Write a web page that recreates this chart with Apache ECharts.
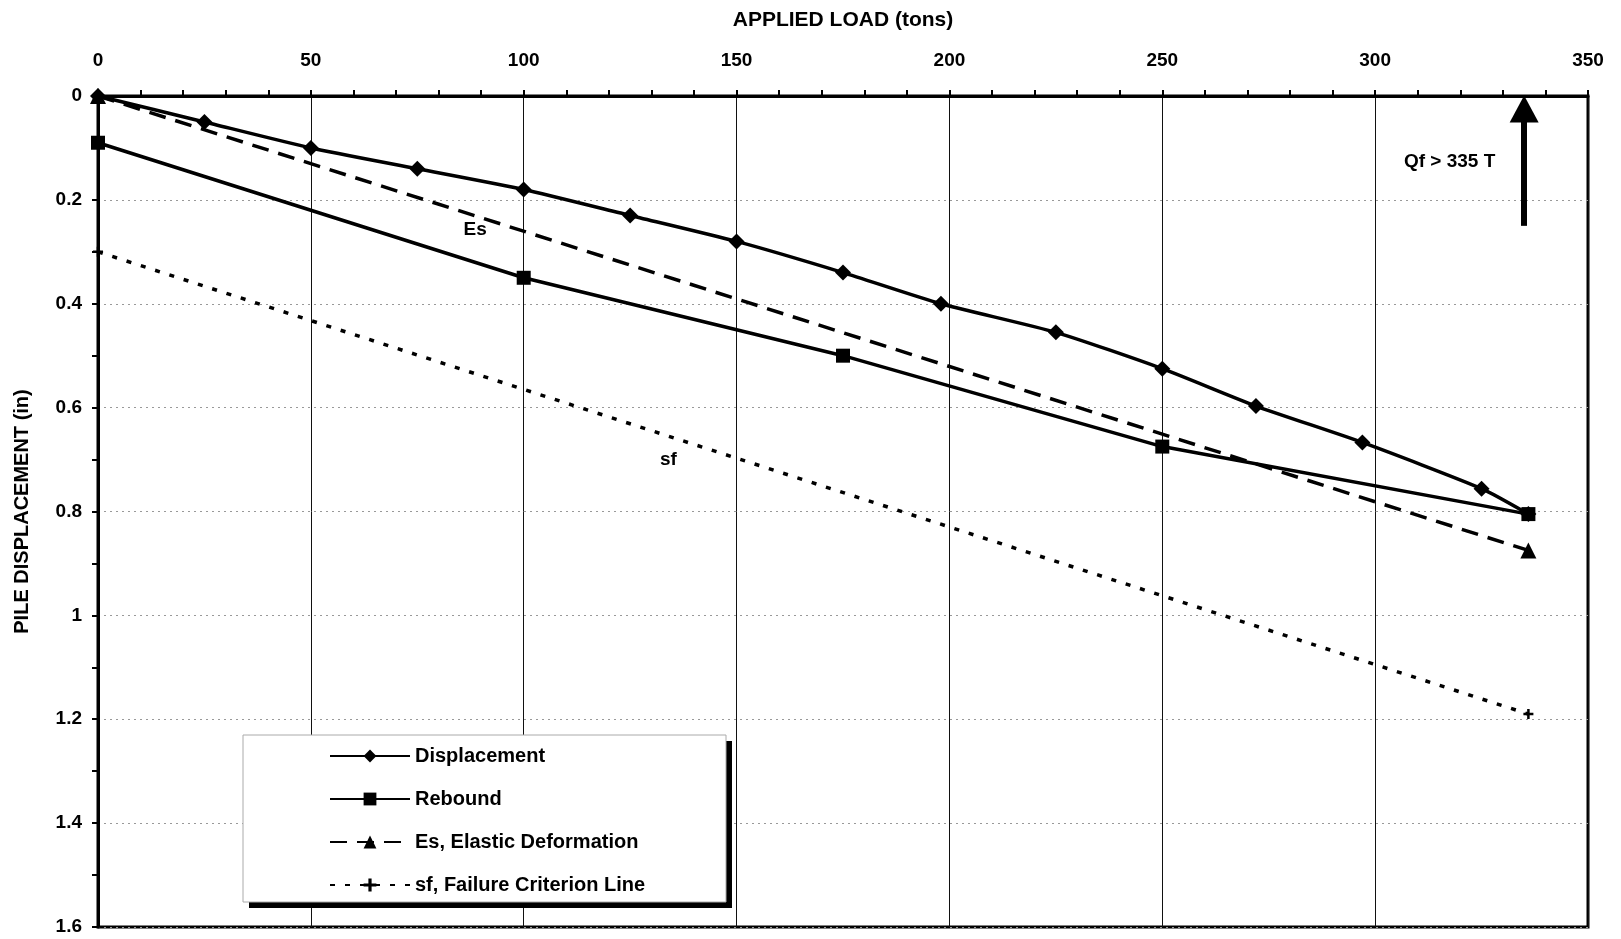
<!DOCTYPE html>
<html>
<head>
<meta charset="utf-8">
<title>Pile Load Test</title>
<script src="https://cdn.jsdelivr.net/npm/echarts@6/dist/echarts.min.js"></script>
<style>
  html, body { margin: 0; padding: 0; background: #fff; }
  #chart { width: 1621px; height: 939px; }
</style>
</head>
<body>
<div id="chart"></div>
<script>
// Load test readings: applied load (tons) vs pile head displacement (in)
const displacementLoad = [0, 25, 50, 75, 100, 125, 150, 175, 198, 225, 250, 272, 297, 325, 336];
const displacementValue = [0, 0.05, 0.10, 0.14, 0.18, 0.23, 0.28, 0.34, 0.40, 0.455, 0.525, 0.597, 0.667, 0.756, 0.805];

const reboundLoad = [0, 100, 175, 250, 336];
const reboundValue = [0.09, 0.35, 0.50, 0.675, 0.805];

// Elastic deformation line (Es) and failure criterion line (sf)
const elasticLoad = [0, 336];
const elasticValue = [0, 0.875];
const failureLoad = [0, 336];
const failureValue = [0.30, 1.19];

// Ultimate capacity arrow: shaft from 0.25 in up to the head centred just below the axis
const ultimateLoad = 335;
const ultimateArrowFrom = 0.25;
const ultimateArrowHead = 0.025;

// Text annotations: [load, displacement, text]
const notes = [
  [88.6, 0.258, 'Es'],
  [134, 0.70, 'sf'],
  [317.5, 0.127, 'Qf > 335 T']
];

const seriesNames = ['Displacement', 'Rebound', 'Es, Elastic Deformation', 'sf, Failure Criterion Line'];

const FONT = "'Liberation Sans', Arial, sans-serif";
const pair = (xs, ys) => xs.map((x, i) => [x, ys[i]]);
const noteLabel = (n) => ({
  coord: [n[0], n[1]],
  symbolSize: 0,
  label: { show: true, position: 'inside', formatter: n[2], color: '#000', fontSize: 19, fontWeight: 'bold', fontFamily: FONT }
});

const chart = echarts.init(document.getElementById('chart'), null, { renderer: 'canvas' });

chart.setOption({
  animation: false,
  backgroundColor: '#fff',
  textStyle: { fontFamily: FONT, color: '#000' },
  grid: {
    left: 98, right: 33, top: 96, bottom: 12,
    show: true, borderColor: '#000', borderWidth: 3, backgroundColor: 'transparent'
  },
  xAxis: {
    type: 'value',
    position: 'top',
    min: 0, max: 350, interval: 50,
    name: 'APPLIED LOAD (tons)',
    nameLocation: 'middle',
    nameGap: 65,
    nameTextStyle: { fontSize: 21, fontWeight: 'bold', color: '#000', fontFamily: FONT },
    axisLine: { show: true, lineStyle: { color: '#000', width: 3 } },
    axisTick: { show: true, inside: false, length: 6, lineStyle: { color: '#000', width: 2 } },
    minorTick: { show: true, splitNumber: 5, length: 6, lineStyle: { color: '#000', width: 2 } },
    axisLabel: { fontSize: 19, fontWeight: 'bold', color: '#000', margin: 26, fontFamily: FONT, showMinLabel: true, showMaxLabel: true },
    splitLine: { show: true, lineStyle: { color: '#111', width: 1 } }
  },
  yAxis: {
    type: 'value',
    inverse: true,
    min: 0, max: 1.6, interval: 0.2,
    name: 'PILE DISPLACEMENT (in)',
    nameLocation: 'middle',
    nameGap: 66,
    nameTextStyle: { fontSize: 20, fontWeight: 'bold', color: '#000', fontFamily: FONT },
    axisLine: { show: true, lineStyle: { color: '#000', width: 3 } },
    axisTick: { show: true, inside: false, length: 6, lineStyle: { color: '#000', width: 2 } },
    minorTick: { show: true, splitNumber: 2, length: 6, lineStyle: { color: '#000', width: 2 } },
    axisLabel: {
      fontSize: 19, fontWeight: 'bold', color: '#000', margin: 16, fontFamily: FONT,
      formatter: (v) => String(Math.round(v * 10) / 10)
    },
    splitLine: { show: true, lineStyle: { color: '#999', width: 1, type: [2, 4] } }
  },
  legend: {
    data: seriesNames,
    orient: 'vertical',
    left: 329, top: 745,
    padding: 0,
    itemWidth: 80, itemHeight: 16, itemGap: 21,
    align: 'left',
    z: 100,
    textStyle: { fontSize: 20, fontWeight: 'bold', lineHeight: 22, color: '#000', fontFamily: FONT },
    selectedMode: false
  },
  graphic: [
    // legend panel drop shadow
    { type: 'rect', z: 50, silent: true, shape: { x: 249, y: 741, width: 483, height: 167 }, style: { fill: '#000' } },
    // legend panel
    { type: 'rect', z: 51, silent: true, shape: { x: 243, y: 735, width: 483, height: 167 }, style: { fill: '#fff', stroke: '#aaa', lineWidth: 1 } }
  ],
  series: [
    {
      name: seriesNames[3],
      type: 'line',
      z: 3,
      data: pair(failureLoad, failureValue),
      symbol: 'path://M3,0H5V3H8V5H5V8H3V5H0V3H3Z',
      symbolSize: 10,
      itemStyle: { color: '#000' },
      lineStyle: { color: '#000', width: 3.5, type: [5, 10] },
      markPoint: { silent: true, symbol: 'circle', data: [noteLabel(notes[1])] }
    },
    {
      name: seriesNames[2],
      type: 'line',
      z: 4,
      data: pair(elasticLoad, elasticValue),
      symbol: 'triangle',
      symbolSize: 16,
      itemStyle: { color: '#000' },
      lineStyle: { color: '#000', width: 3.5, type: [17, 10] },
      markPoint: { silent: true, symbol: 'circle', data: [noteLabel(notes[0])] }
    },
    {
      name: seriesNames[1],
      type: 'line',
      z: 5,
      data: pair(reboundLoad, reboundValue),
      symbol: 'rect',
      symbolSize: 14,
      itemStyle: { color: '#000' },
      lineStyle: { color: '#000', width: 3.5 }
    },
    {
      name: seriesNames[0],
      type: 'line',
      z: 6,
      data: pair(displacementLoad, displacementValue),
      symbol: 'diamond',
      symbolSize: 16,
      smooth: 0.2,
      itemStyle: { color: '#000' },
      lineStyle: { color: '#000', width: 3.5 },
      markPoint: { silent: true, symbol: 'circle', data: [noteLabel(notes[2])] },
      markLine: {
        silent: true,
        symbol: ['none', 'triangle'],
        symbolSize: [29, 27],
        label: { show: false },
        lineStyle: { color: '#000', width: 6, type: 'solid' },
        data: [[{ coord: [ultimateLoad, ultimateArrowFrom] }, { coord: [ultimateLoad, ultimateArrowHead] }]]
      }
    }
  ]
});
</script>
</body>
</html>
